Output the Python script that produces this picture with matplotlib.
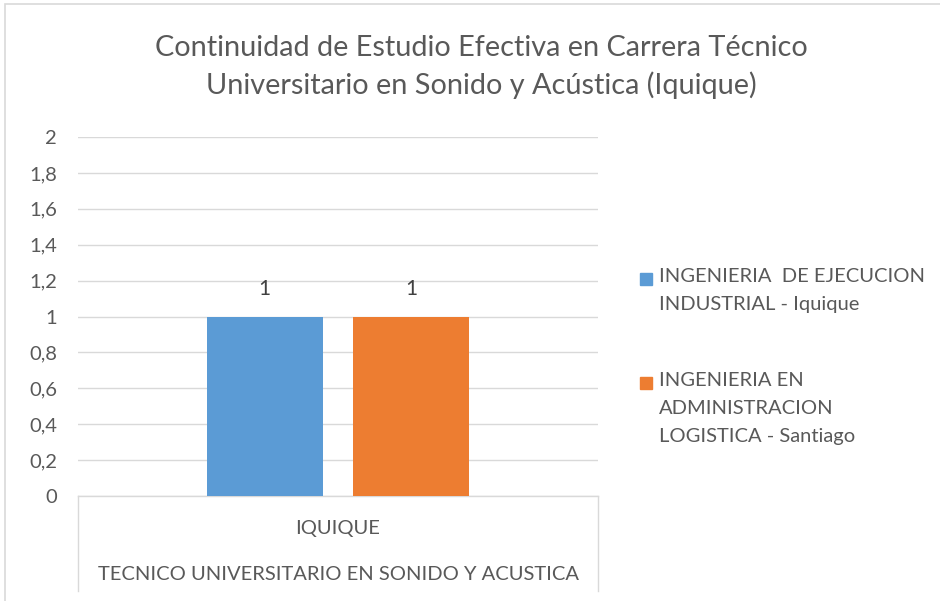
import numpy as np
import matplotlib.pyplot as plt
from matplotlib.patches import Rectangle
from matplotlib.ticker import FuncFormatter

# -----------------------
# Data
# -----------------------
title = "Continuidad de Estudio Efectiva en Carrera Técnico\nUniversitario en Sonido y Acústica (Iquique)"
category = "IQUIQUE"
group_label = "TECNICO UNIVERSITARIO EN SONIDO Y ACUSTICA"
series_names = ["INGENIERIA  DE EJECUCION\nINDUSTRIAL - Iquique",
                "INGENIERIA EN\nADMINISTRACION\nLOGISTICA - Santiago"]
series_values = [1, 1]
colors = ["#5B9BD5", "#ED7D31"]
yticks = [0, 0.2, 0.4, 0.6, 0.8, 1, 1.2, 1.4, 1.6, 1.8, 2]

plt.rcParams['font.family'] = ['Lato', 'DejaVu Sans']
text_gray = "#595959"
grid_gray = "#D9D9D9"

fig = plt.figure(figsize=(9.4, 6.01), dpi=100)
W, H = 940, 601

# outer chart border
fig.patches.append(Rectangle((5 / W, -0.01), 1.0, (601 - 4) / H + 0.01,
                             transform=fig.transFigure, fill=False,
                             edgecolor=grid_gray, linewidth=1.2))

ax = fig.add_axes([78 / W, (H - 496) / H, 520 / W, 359 / H])

# -----------------------
# Bars
# -----------------------
bar_w = 116 / 520
gap = 31 / 520
offsets = [-(bar_w + gap) / 2, (bar_w + gap) / 2]
for name, val, col, off in zip(series_names, series_values, colors, offsets):
    ax.bar(0.5 + off, val, width=bar_w, color=col, zorder=3)
    ax.text(0.5 + off, val + 0.1, f"{val}", ha='center', va='bottom',
            fontsize=15, color="#404040")

ax.set_xlim(0, 1)
ax.set_ylim(0, 2)
ax.set_yticks(yticks)
ax.yaxis.set_major_formatter(FuncFormatter(lambda v, p: f"{v:g}".replace('.', ',')))
ax.tick_params(axis='y', length=0, labelsize=14.5, labelcolor=text_gray, pad=15)
ax.set_xticks([])
ax.grid(axis='y', color=grid_gray, linewidth=1, zorder=0)
for s in ax.spines.values():
    s.set_visible(False)

# multi-level category axis
ax.plot([0, 1], [0, 0], color=grid_gray, linewidth=1, clip_on=False, zorder=2)
for x in [0, 1]:
    ax.plot([x, x], [0, -0.53], color=grid_gray, linewidth=1, clip_on=False)
ax.text(0.5, -0.18, category, ha='center', va='center', fontsize=14.5,
        color=text_gray)
ax.text(0.5, -0.44, group_label, ha='center', va='center', fontsize=14.5,
        color=text_gray)

# -----------------------
# Title
# -----------------------
fig.text(481 / W, 1 - 67 / H, title, ha='center', va='center', fontsize=20.8,
         color=text_gray, linespacing=1.45)

# -----------------------
# Legend (manual, Excel style)
# -----------------------
leg_tops = [268, 372]
for name, col, top in zip(series_names, colors, leg_tops):
    fig.patches.append(Rectangle((640 / W, 1 - (top + 17) / H), 12 / W, 12 / H,
                                 transform=fig.transFigure, color=col))
    fig.text(659 / W, 1 - top / H, name, ha='left', va='top', fontsize=14.5,
             color=text_gray, linespacing=1.8)

fig.savefig("out.png", dpi=100)
